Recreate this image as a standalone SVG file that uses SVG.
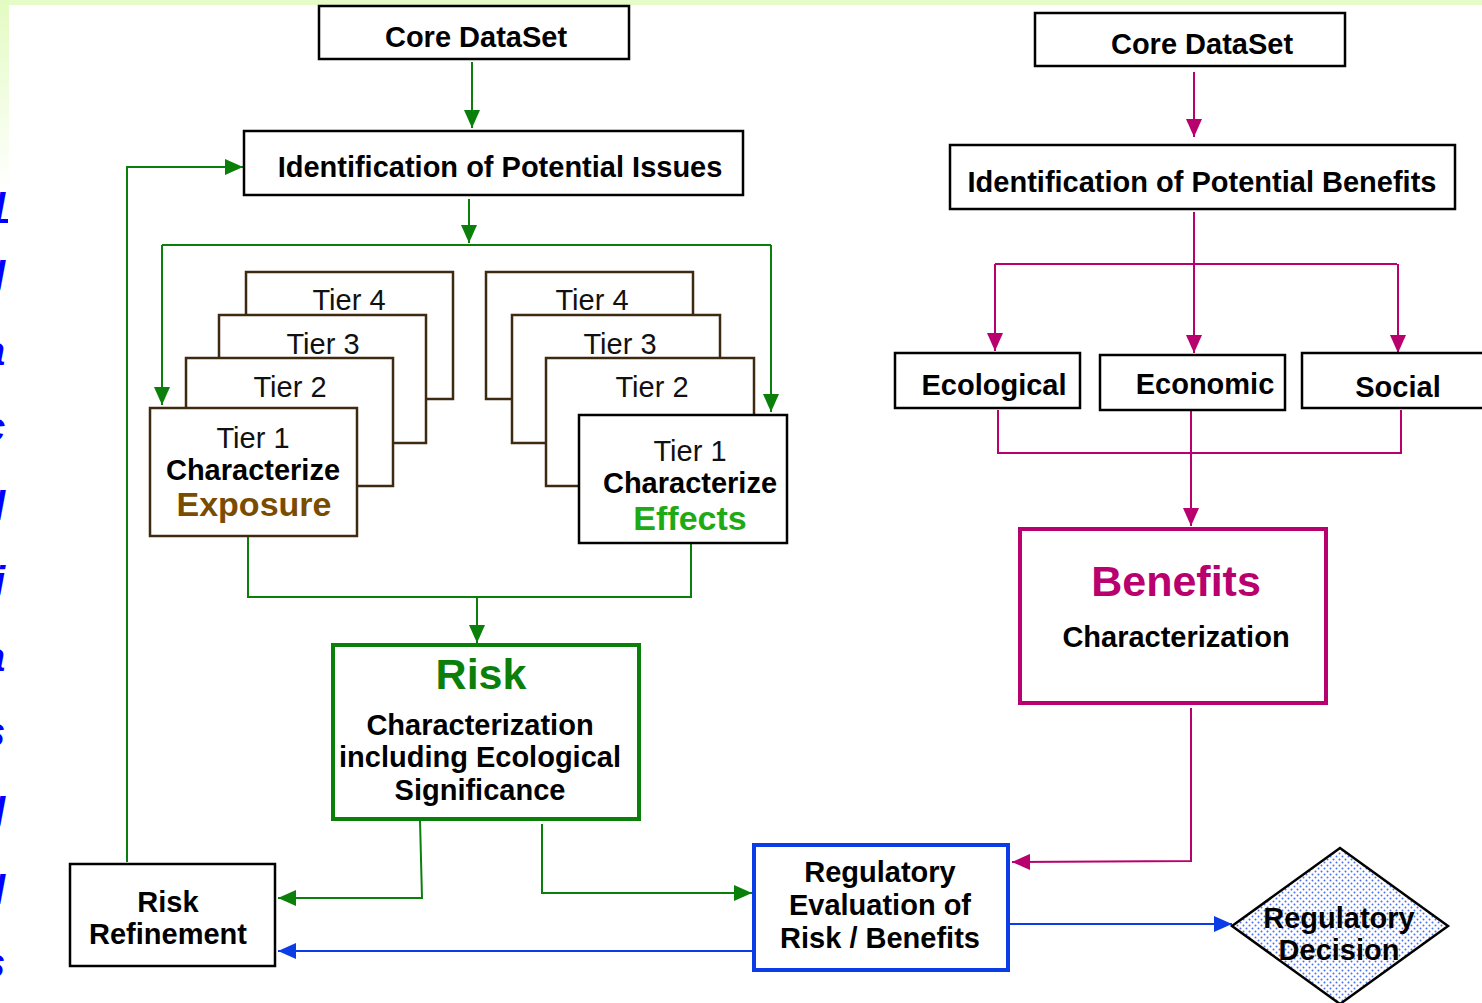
<svg xmlns="http://www.w3.org/2000/svg" width="1482" height="1003" viewBox="0 0 1482 1003">
  <style>
    text { font-family: "Liberation Sans", Arial, sans-serif; text-anchor: middle; }
    .b { font-weight: bold; font-size: 29px; fill: #000; }
    .t { font-size: 29px; fill: #111; }
    .big { font-weight: bold; font-size: 43px; }
    .box { fill: #fff; stroke: #000; stroke-width: 2.5; }
    .tier { fill: #fff; stroke: #3d2a10; stroke-width: 2.5; }
    .g { fill: none; stroke: #0a800a; stroke-width: 2; }
    .m { fill: none; stroke: #b8006e; stroke-width: 2; }
    .bl { fill: none; stroke: #0a3de6; stroke-width: 2; }
    .edge { font-size: 40px; font-weight: bold; font-style: italic; fill: #0000ff; text-anchor: start; }
  </style>
  <defs>
    <linearGradient id="sideBand" x1="0" y1="0" x2="0" y2="1">
      <stop offset="0" stop-color="#e3fbc2"/>
      <stop offset="1" stop-color="#ffffff"/>
    </linearGradient>
    <pattern id="dots" width="6" height="6" patternUnits="userSpaceOnUse">
      <rect width="6" height="6" fill="#fff"/>
      <circle cx="1.5" cy="1.5" r="1" fill="#4a72e8"/>
      <circle cx="4.5" cy="4.5" r="1" fill="#4a72e8"/>
    </pattern>
    <marker id="ag" markerWidth="18" markerHeight="16" refX="18" refY="8" orient="auto" markerUnits="userSpaceOnUse">
      <path d="M0,0 L18,8 L0,16 Z" fill="#0a800a"/>
    </marker>
    <marker id="am" markerWidth="18" markerHeight="16" refX="18" refY="8" orient="auto" markerUnits="userSpaceOnUse">
      <path d="M0,0 L18,8 L0,16 Z" fill="#b8006e"/>
    </marker>
    <marker id="ab" markerWidth="18" markerHeight="16" refX="18" refY="8" orient="auto" markerUnits="userSpaceOnUse">
      <path d="M0,0 L18,8 L0,16 Z" fill="#0a3de6"/>
    </marker>
  </defs>

  <!-- page background and slide border bands -->
  <rect width="1482" height="1003" fill="#fff"/>
  <rect x="0" y="0" width="1482" height="5" fill="#e6fcc8"/>
  <rect x="0" y="0" width="9" height="190" fill="url(#sideBand)"/>

  <!-- slide title letters running off the left edge -->
  <g id="edge-letters">
    <text class="edge" x="-6" y="222">l</text>
    <rect x="0" y="219" width="8" height="4" fill="#0000ff"/>
    <text class="edge" x="-6" y="290">l</text>
    <text class="edge" x="-17" y="365">a</text>
    <text class="edge" x="-17" y="441">c</text>
    <text class="edge" x="-6" y="520">l</text>
    <text class="edge" x="-6" y="595">i</text>
    <text class="edge" x="-17" y="671">a</text>
    <text class="edge" x="-17" y="746">s</text>
    <text class="edge" x="-6" y="826">l</text>
    <text class="edge" x="-6" y="904">l</text>
    <text class="edge" x="-17" y="977">s</text>
  </g>

  <!-- connectors -->
  <g id="connectors">
    <!-- risk side -->
    <path class="g" d="M472,62 V128" marker-end="url(#ag)"/>
    <path class="g" d="M469,199 V243" marker-end="url(#ag)"/>
    <path class="g" d="M162,245 H771"/>
    <path class="g" d="M162,245 V405" marker-end="url(#ag)"/>
    <path class="g" d="M771,245 V412" marker-end="url(#ag)"/>
    <path class="g" d="M248,537 V597 H691 V543"/>
    <path class="g" d="M477,597 V643" marker-end="url(#ag)"/>
    <path class="g" d="M420,820 L422,898 H278" marker-end="url(#ag)"/>
    <path class="g" d="M542,824 V893 H752" marker-end="url(#ag)"/>
    <path class="g" d="M127,862 V167 H243" marker-end="url(#ag)"/>
    <!-- benefits side -->
    <path class="m" d="M1194,72 V137" marker-end="url(#am)"/>
    <path class="m" d="M1194,212 V353" marker-end="url(#am)"/>
    <path class="m" d="M995,264 H1397"/>
    <path class="m" d="M995,264 V351" marker-end="url(#am)"/>
    <path class="m" d="M1398,264 V353" marker-end="url(#am)"/>
    <path class="m" d="M998,410 V453 H1401 V410"/>
    <path class="m" d="M1191,411 V526" marker-end="url(#am)"/>
    <path class="m" d="M1191,708 V861 L1012,862" marker-end="url(#am)"/>
    <!-- decision flow -->
    <path class="bl" d="M752,951 H278" marker-end="url(#ab)"/>
    <path class="bl" d="M1010,924 H1232" marker-end="url(#ab)"/>
  </g>

  <!-- risk assessment nodes -->
  <g id="core-dataset-risk">
    <rect class="box" x="319" y="6" width="310" height="53"/>
    <text class="b" x="476" y="47">Core DataSet</text>
  </g>
  <g id="potential-issues">
    <rect class="box" x="244" y="131" width="499" height="64"/>
    <text class="b" x="500" y="177">Identification of Potential Issues</text>
  </g>

  <g id="exposure-tiers">
    <rect class="tier" x="246" y="272" width="207" height="127"/>
    <text class="t" x="349" y="310">Tier 4</text>
    <rect class="tier" x="219" y="315" width="207" height="128"/>
    <text class="t" x="323" y="354">Tier 3</text>
    <rect class="tier" x="186" y="358" width="207" height="128"/>
    <text class="t" x="290" y="397">Tier 2</text>
    <rect class="tier" x="150" y="408" width="207" height="128"/>
    <text class="t" x="253" y="448">Tier 1</text>
    <text class="b" x="253" y="480">Characterize</text>
    <text class="b" x="254" y="516" style="font-size:34px;fill:#7a4c00">Exposure</text>
  </g>

  <g id="effects-tiers">
    <rect class="tier" x="486" y="272" width="207" height="127"/>
    <text class="t" x="592" y="310">Tier 4</text>
    <rect class="tier" x="512" y="315" width="208" height="128"/>
    <text class="t" x="620" y="354">Tier 3</text>
    <rect class="tier" x="546" y="358" width="208" height="128"/>
    <text class="t" x="652" y="397">Tier 2</text>
    <rect class="box" x="579" y="415" width="208" height="128"/>
    <text class="t" x="690" y="461">Tier 1</text>
    <text class="b" x="690" y="493">Characterize</text>
    <text class="b" x="690" y="530" style="font-size:34px;fill:#1eaa14">Effects</text>
  </g>

  <g id="risk-characterization">
    <rect x="333" y="645" width="306" height="174" fill="#fff" stroke="#0a800a" stroke-width="4"/>
    <text class="big" x="481" y="689" fill="#0a800a">Risk</text>
    <text class="b" x="480" y="735">Characterization</text>
    <text class="b" x="480" y="767">including Ecological</text>
    <text class="b" x="480" y="800">Significance</text>
  </g>

  <g id="risk-refinement">
    <rect class="box" x="70" y="864" width="205" height="102"/>
    <text class="b" x="168" y="912">Risk</text>
    <text class="b" x="168" y="944">Refinement</text>
  </g>

  <!-- benefits assessment nodes -->
  <g id="core-dataset-benefits">
    <rect class="box" x="1035" y="13" width="310" height="53"/>
    <text class="b" x="1202" y="54">Core DataSet</text>
  </g>
  <g id="potential-benefits">
    <rect class="box" x="950" y="145" width="505" height="64"/>
    <text class="b" x="1202" y="192">Identification of Potential Benefits</text>
  </g>
  <g id="ecological">
    <rect class="box" x="895" y="353" width="185" height="55"/>
    <text class="b" x="994" y="395">Ecological</text>
  </g>
  <g id="economic">
    <rect class="box" x="1100" y="355" width="185" height="55"/>
    <text class="b" x="1205" y="394">Economic</text>
  </g>
  <g id="social">
    <rect class="box" x="1302" y="353" width="190" height="55"/>
    <text class="b" x="1398" y="397">Social</text>
  </g>
  <g id="benefits-characterization">
    <rect x="1020" y="529" width="306" height="174" fill="#fff" stroke="#b8006e" stroke-width="4"/>
    <text class="big" x="1176" y="596" fill="#b8006e">Benefits</text>
    <text class="b" x="1176" y="647">Characterization</text>
  </g>

  <!-- decision nodes -->
  <g id="regulatory-evaluation">
    <rect x="754" y="845" width="254" height="125" fill="#fff" stroke="#0a3de6" stroke-width="4"/>
    <text class="b" x="880" y="882">Regulatory</text>
    <text class="b" x="880" y="915">Evaluation of</text>
    <text class="b" x="880" y="948">Risk / Benefits</text>
  </g>
  <g id="regulatory-decision">
    <path d="M1340,848 L1448,926 L1340,1004 L1232,926 Z" fill="url(#dots)" stroke="#000" stroke-width="2.5"/>
    <text class="b" x="1339" y="928">Regulatory</text>
    <text class="b" x="1339" y="960">Decision</text>
  </g>
</svg>
